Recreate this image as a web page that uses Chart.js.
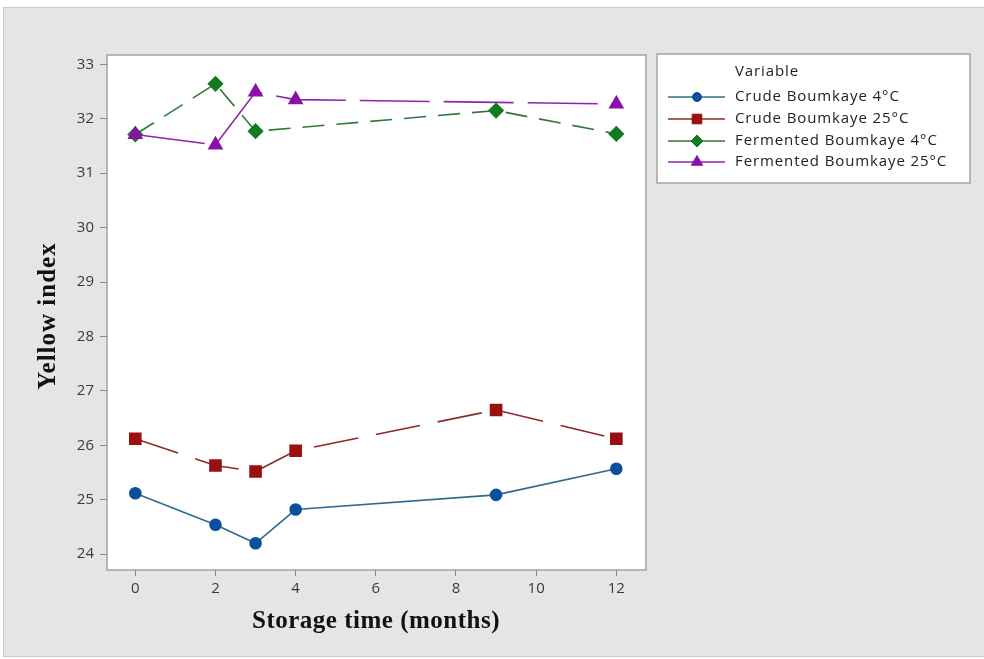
<!DOCTYPE html>
<html>
<head>
<meta charset="utf-8">
<script src="https://cdn.jsdelivr.net/npm/chart.js@4/dist/chart.umd.min.js"></script>
<style>
  html, body { margin: 0; padding: 0; background: #fff; }
  #wrap { width: 984px; height: 659px; }
</style>
</head>
<body>
<div id="wrap"><canvas id="myChart" width="984" height="659"></canvas></div>
<script>
// values
const months = [0, 2, 3, 4, 9, 12];
const crude4 = [25.12, 24.54, 24.20, 24.82, 25.09, 25.57];
const crude25 = [26.12, 25.63, 25.52, 25.90, 26.65, 26.12];
const ferm4 = [31.71, 32.64, 31.77, null, 32.15, 31.72];
const ferm25 = [31.71, 31.52, 32.49, 32.35, null, 32.27];
const seriesNames = ["Crude Boumkaye 4°C", "Crude Boumkaye 25°C", "Fermented Boumkaye 4°C", "Fermented Boumkaye 25°C"];
const xTicks = [0, 2, 4, 6, 8, 10, 12];
const yTicks = [24, 25, 26, 27, 28, 29, 30, 31, 32, 33];

function pts(vals){
    return months.map((m, i) => ({x: m, y: vals[i]})).filter(p => p.y !== null);
}

const tickFont = {family: "'Open Sans', sans-serif", size: 15};

const frame = {
    id: 'frame',
    beforeDraw(chart){
        const ctx = chart.ctx, a = chart.chartArea;
        ctx.save();
        ctx.fillStyle = '#fff';
        ctx.fillRect(0, 0, chart.width, chart.height);
        ctx.fillStyle = '#e5e5e5';
        ctx.fillRect(4, 8, chart.width - 4, 648);
        ctx.strokeStyle = '#c9c9c9';
        ctx.lineWidth = 1;
        ctx.strokeRect(3.5, 7.5, chart.width, 649);
        ctx.fillStyle = '#fff';
        ctx.fillRect(a.left, a.top, a.right - a.left, a.bottom - a.top);
        ctx.strokeStyle = '#a3a3a3';
        ctx.lineWidth = 1.5;
        ctx.strokeRect(a.left, a.top, a.right - a.left, a.bottom - a.top);
        ctx.restore();
    },
    afterDraw(chart){
        const ctx = chart.ctx;
        ctx.save();
        // axis titles
        ctx.fillStyle = '#111';
        ctx.font = "bold 25px 'Liberation Serif', serif";
        ctx.textAlign = 'center';
        ctx.textBaseline = 'middle';
        ctx.letterSpacing = '0.5px';
        ctx.fillText('Storage time (months)', 376, 622);
        ctx.letterSpacing = '1px';
        ctx.translate(49, 316);
        ctx.rotate(-Math.PI / 2);
        ctx.fillText('Yellow index', 0, 0);
        ctx.restore();

        // legend
        ctx.save();
        ctx.fillStyle = '#fff';
        ctx.fillRect(657, 54, 313, 129);
        ctx.strokeStyle = '#a3a3a3';
        ctx.lineWidth = 1.5;
        ctx.strokeRect(657, 54, 313, 129);
        ctx.font = "15px 'Open Sans', sans-serif";
        ctx.letterSpacing = '0.9px';
        ctx.textAlign = 'left';
        ctx.textBaseline = 'middle';
        ctx.fillStyle = '#222';
        ctx.fillText('Variable', 735, 72);
        const rows = [97, 119, 141, 162];
        chart.data.datasets.forEach((ds, i) => {
            const y = rows[i];
            ctx.strokeStyle = ds.borderColor;
            ctx.lineWidth = 1.6;
            ctx.setLineDash([]);
            ctx.beginPath();
            ctx.moveTo(668, y);
            ctx.lineTo(725, y);
            ctx.stroke();
            ctx.fillStyle = ds.pointBackgroundColor;
            ctx.strokeStyle = ds.pointBorderColor;
            ctx.lineWidth = 1;
            Chart.helpers.drawPoint(ctx, {
                pointStyle: ds.pointStyle,
                radius: ds.pointRadius - 1,
                borderWidth: 1
            }, 697, y);
            ctx.fillStyle = '#222';
            ctx.fillText(ds.label, 735, y);
        });
        ctx.restore();
    }
};

new Chart("myChart", {
    type: "line",
    data: {
        datasets: [
            {label: seriesNames[0], data: pts(crude4), order: 3, borderColor: '#2e6b8f', backgroundColor: '#0b4f9c',
             pointBackgroundColor: '#0b4f9c', pointBorderColor: '#0b4f9c', pointStyle: 'circle', pointRadius: 5.5,
             borderWidth: 1.6},
            {label: seriesNames[1], data: pts(crude25), order: 2, borderColor: '#8c2b2b', backgroundColor: '#9a0f0f',
             pointBackgroundColor: '#9a0f0f', pointBorderColor: '#9a0f0f', pointStyle: 'rect', pointRadius: 7.8,
             borderWidth: 1.6, borderDash: [45, 18]},
            {label: seriesNames[2], data: pts(ferm4), order: 1, borderColor: '#2d7a3c', backgroundColor: '#137a22',
             pointBackgroundColor: '#137a22', pointBorderColor: '#137a22', pointStyle: 'rectRot', pointRadius: 7,
             borderWidth: 1.6, borderDash: [22, 12]},
            {label: seriesNames[3], data: pts(ferm25), order: 0, borderColor: '#8e25a8', backgroundColor: '#8a10a8',
             pointBackgroundColor: '#8a10a8', pointBorderColor: '#8a10a8', pointStyle: 'triangle', pointRadius: 7.5,
             borderWidth: 1.6, borderDash: [70, 14]}
        ]
    },
    plugins: [frame],
    options: {
        responsive: false,
        animation: false,
        layout: {padding: {left: 0, top: 55, right: 338, bottom: 0}},
        plugins: {legend: {display: false}, tooltip: {enabled: false}},
        scales: {
            x: {
                type: 'linear', min: -0.706, max: 12.74,
                afterBuildTicks: s => { s.ticks = xTicks.map(v => ({value: v})); },
                afterFit: s => { s.height = 89; },
                grid: {drawOnChartArea: false, drawTicks: true, tickLength: 6, color: '#8a8a8a'},
                border: {display: false},
                ticks: {color: '#3a3a3a', font: tickFont, padding: 4}
            },
            y: {
                type: 'linear', min: 23.71, max: 33.17,
                afterBuildTicks: s => { s.ticks = yTicks.map(v => ({value: v})); },
                afterFit: s => { s.width = 107; },
                grid: {drawOnChartArea: false, drawTicks: true, tickLength: 7, color: '#8a8a8a'},
                border: {display: false},
                ticks: {color: '#3a3a3a', font: tickFont, padding: 6}
            }
        }
    }
});
</script>
</body>
</html>
